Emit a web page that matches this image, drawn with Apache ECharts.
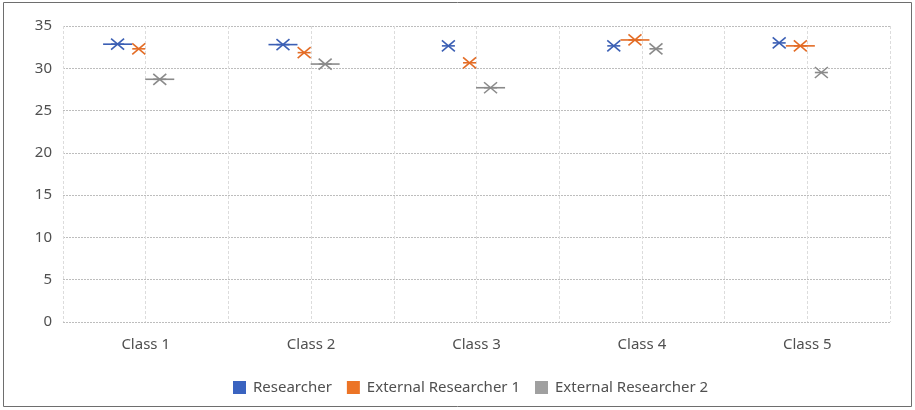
<!DOCTYPE html>
<html>
<head>
<meta charset="utf-8">
<script src="https://cdn.jsdelivr.net/npm/echarts@6/dist/echarts.min.js"></script>
<style>
  body { margin: 0; background: #fff; }
  #chart { width: 915px; height: 410px; }
</style>
</head>
<body>
<div id="chart"></div>
<script>
// values (mean marker + median line where it shows)
const categories = ['Class 1', 'Class 2', 'Class 3', 'Class 4', 'Class 5'];
const seriesNames = ['Researcher', 'External Researcher 1', 'External Researcher 2'];
const researcherMean = [32.85, 32.8, 32.65, 32.65, 33.0];
const researcherMedian = [32.85, 32.8, null, null, null];
const ext1Mean = [32.3, 31.85, 30.65, 33.35, 32.65];
const ext1Median = [null, null, null, 33.35, 32.65];
const ext2Mean = [28.7, 30.5, 27.7, 32.3, 29.5];
const ext2Median = [28.7, 30.5, 27.7, null, null];
const yTicks = [0, 5, 10, 15, 20, 25, 30, 35];

const colors = ['#3b5fb4', '#e36c25', '#8a8a8a'];
const legendColors = ['#3a63c0', '#ec7426', '#a0a0a0'];
const offsets = [-0.17, -0.042, 0.085]; // fraction of a category band

function makeSeries(idx, means, medians) {
  const data = means.map((m, i) => [i, m, medians[i] == null ? '-' : medians[i]]);
  return {
    name: seriesNames[idx],
    type: 'custom',
    itemStyle: { color: legendColors[idx] },
    encode: { x: 0, y: 1 },
    data: data,
    renderItem: function (params, api) {
      const band = api.size([1, 0])[0];
      const pt = api.coord([api.value(0), api.value(1)]);
      const cx = pt[0] + offsets[idx] * band;
      const cy = pt[1];
      const stroke = { stroke: colors[idx], lineWidth: 1.6, fill: null };
      const children = [];
      const med = api.value(2);
      if (!isNaN(med)) {
        const my = api.coord([api.value(0), med])[1];
        children.push({
          type: 'line',
          shape: { x1: cx - 14.5, y1: my, x2: cx + 14.5, y2: my },
          style: stroke
        });
      }
      children.push({
        type: 'polyline',
        shape: { points: [[cx - 6.5, cy - 5.5], [cx + 6.5, cy + 5.5]] },
        style: stroke
      });
      children.push({
        type: 'polyline',
        shape: { points: [[cx - 6.5, cy + 5.5], [cx + 6.5, cy - 5.5]] },
        style: stroke
      });
      children.push({
        type: 'line',
        shape: { x1: cx - 6.5, y1: cy, x2: cx + 6.5, y2: cy },
        style: stroke
      });
      return { type: 'group', children: children };
    }
  };
}

const chart = echarts.init(document.getElementById('chart'));
chart.setOption({
  animation: false,
  textStyle: { fontFamily: 'Noto Sans' },
  graphic: [{
    type: 'rect',
    shape: { x: 3.5, y: 2.5, width: 908, height: 404 },
    style: { fill: null, stroke: '#6e6e6e', lineWidth: 1 },
    silent: true
  }],
  grid: { left: 63, right: 25, top: 26, bottom: 88 },
  legend: {
    left: 228,
    top: 375,
    icon: 'rect',
    itemWidth: 13,
    itemHeight: 13,
    itemGap: 15,
    textStyle: { color: '#505050', fontSize: 15, fontFamily: 'Noto Sans', padding: [0, 0, 0, 2] },
    data: seriesNames
  },
  xAxis: {
    type: 'value',
    min: -0.5,
    max: categories.length - 0.5,
    interval: 0.5,
    axisLine: { show: false },
    axisTick: { show: false },
    axisLabel: {
      color: '#505050',
      fontSize: 15,
      margin: 15,
      formatter: v => Number.isInteger(v) ? categories[v] : ''
    },
    splitLine: { show: true, lineStyle: { color: '#dcdcdc', type: [3, 2], width: 1 } }
  },
  yAxis: {
    type: 'value',
    min: yTicks[0],
    max: yTicks[yTicks.length - 1],
    interval: 5,
    axisLine: { show: false },
    axisTick: { show: false },
    axisLabel: { color: '#505050', fontSize: 15, margin: 11 },
    splitLine: { lineStyle: { color: '#bdbdbd', type: [2, 1], width: 1 } }
  },
  series: [
    makeSeries(0, researcherMean, researcherMedian),
    makeSeries(1, ext1Mean, ext1Median),
    makeSeries(2, ext2Mean, ext2Median)
  ]
});
</script>
</body>
</html>
